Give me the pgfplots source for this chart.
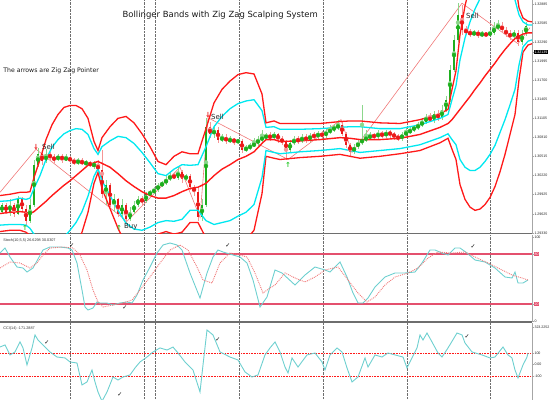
\documentclass[border=0pt]{standalone}
\usepackage{pgfplots}
\pgfplotsset{compat=1.18}
\usepackage{pgfplotstable}
\usepackage{fontspec}
\setmainfont{DejaVu Sans}
\newfontfamily\sym{DejaVu Sans}
\newfontfamily\tk{Liberation Sans}

\definecolor{bandred}{RGB}{255,25,25}
\definecolor{bandcyan}{RGB}{0,232,240}
\definecolor{upbody}{RGB}{30,175,30}
\definecolor{upwick}{RGB}{140,215,140}
\definecolor{dnbody}{RGB}{235,25,25}
\definecolor{dnwick}{RGB}{245,150,150}
\definecolor{zz}{RGB}{240,120,120}
\definecolor{teal1}{RGB}{110,208,208}
\definecolor{stline}{RGB}{228,80,110}
\definecolor{sepc}{RGB}{110,110,110}
\definecolor{gridc}{RGB}{110,110,110}
\definecolor{arrgreen}{RGB}{40,200,40}

\pgfplotstableread{
x o c h l
2 1.2966 1.2976 1.2980 1.2962
6 1.2976 1.2966 1.2979 1.2963
10 1.2966 1.2977 1.2985 1.2960
14 1.2977 1.2963 1.2980 1.2957
18 1.2963 1.2985 1.2991 1.2960
22 1.2985 1.2970 1.2988 1.2966
26 1.2970 1.2951 1.2977 1.2946
30 1.2951 1.2977 1.2985 1.2948
34 1.2977 1.3039 1.3047 1.2974
38 1.3039 1.3055 1.3065 1.3035
42 1.3055 1.3044 1.3062 1.3039
46 1.3044 1.3055 1.3064 1.3041
50 1.3055 1.3050 1.3059 1.3045
54 1.3050 1.3047 1.3055 1.3042
58 1.3047 1.3052 1.3056 1.3044
62 1.3052 1.3047 1.3055 1.3042
66 1.3047 1.3050 1.3055 1.3044
70 1.3050 1.3045 1.3053 1.3041
74 1.3045 1.3042 1.3050 1.3039
78 1.3042 1.3045 1.3050 1.3039
82 1.3045 1.3041 1.3049 1.3038
86 1.3041 1.3042 1.3047 1.3036
90 1.3042 1.3038 1.3045 1.3035
94 1.3038 1.3039 1.3044 1.3033
98 1.3039 1.3031 1.3047 1.3028
102 1.3031 1.2993 1.3062 1.2988
106 1.2993 1.3008 1.3016 1.2977
110 1.3008 1.2977 1.3011 1.2973
114 1.2977 1.2985 1.2993 1.2966
118 1.2985 1.2962 1.2988 1.2957
122 1.2962 1.2977 1.2985 1.2954
126 1.2977 1.2954 1.2980 1.2946
130 1.2954 1.2966 1.2973 1.2951
134 1.2966 1.2977 1.2982 1.2962
138 1.2977 1.2985 1.2990 1.2973
142 1.2985 1.2982 1.2991 1.2977
146 1.2982 1.2993 1.2997 1.2979
150 1.2993 1.2996 1.3000 1.2990
154 1.2996 1.3000 1.3005 1.2993
158 1.3000 1.3007 1.3011 1.2997
162 1.3007 1.3010 1.3014 1.3004
166 1.3010 1.3016 1.3021 1.3007
170 1.3016 1.3022 1.3027 1.3013
174 1.3022 1.3019 1.3028 1.3016
178 1.3019 1.3028 1.3035 1.3016
182 1.3028 1.3016 1.3031 1.3011
186 1.3016 1.3022 1.3025 1.3013
190 1.3022 1.3004 1.3025 1.3000
194 1.3004 1.2997 1.3008 1.2991
198 1.2997 1.2957 1.3004 1.2951
202 1.2957 1.2977 1.2985 1.2951
206 1.2977 1.3097 1.3112 1.2973
210 1.3097 1.3086 1.3106 1.3081
214 1.3086 1.3093 1.3100 1.3081
218 1.3093 1.3078 1.3097 1.3073
222 1.3078 1.3081 1.3087 1.3075
226 1.3081 1.3076 1.3086 1.3072
230 1.3076 1.3078 1.3083 1.3073
234 1.3078 1.3075 1.3081 1.3070
238 1.3075 1.3076 1.3079 1.3072
242 1.3076 1.3062 1.3079 1.3058
246 1.3062 1.3065 1.3070 1.3059
250 1.3065 1.3068 1.3073 1.3062
254 1.3068 1.3072 1.3081 1.3067
258 1.3072 1.3078 1.3084 1.3068
262 1.3078 1.3081 1.3093 1.3075
266 1.3081 1.3084 1.3089 1.3078
270 1.3084 1.3081 1.3090 1.3076
274 1.3081 1.3086 1.3090 1.3078
278 1.3086 1.3078 1.3089 1.3073
282 1.3078 1.3075 1.3083 1.3070
286 1.3075 1.3062 1.3078 1.3047
290 1.3062 1.3073 1.3078 1.3058
294 1.3073 1.3078 1.3083 1.3070
298 1.3078 1.3076 1.3083 1.3072
302 1.3076 1.3081 1.3086 1.3073
306 1.3081 1.3078 1.3086 1.3073
310 1.3078 1.3084 1.3089 1.3075
314 1.3084 1.3083 1.3090 1.3078
318 1.3083 1.3087 1.3092 1.3079
322 1.3087 1.3084 1.3092 1.3079
326 1.3084 1.3090 1.3095 1.3081
330 1.3090 1.3093 1.3100 1.3087
334 1.3093 1.3097 1.3103 1.3090
338 1.3097 1.3100 1.3109 1.3093
342 1.3100 1.3087 1.3106 1.3083
346 1.3087 1.3070 1.3090 1.3065
350 1.3070 1.3059 1.3073 1.3053
354 1.3059 1.3067 1.3072 1.3055
358 1.3067 1.3073 1.3078 1.3064
362 1.3073 1.3078 1.3132 1.3070
366 1.3078 1.3081 1.3093 1.3075
370 1.3081 1.3084 1.3090 1.3078
374 1.3084 1.3083 1.3089 1.3078
378 1.3083 1.3087 1.3093 1.3079
382 1.3087 1.3084 1.3092 1.3081
386 1.3084 1.3089 1.3093 1.3081
390 1.3089 1.3086 1.3093 1.3081
394 1.3086 1.3083 1.3090 1.3078
398 1.3083 1.3079 1.3087 1.3076
402 1.3079 1.3086 1.3090 1.3076
406 1.3086 1.3089 1.3097 1.3083
410 1.3089 1.3093 1.3098 1.3086
414 1.3093 1.3097 1.3101 1.3090
418 1.3097 1.3100 1.3106 1.3093
422 1.3100 1.3106 1.3112 1.3097
426 1.3106 1.3112 1.3118 1.3103
430 1.3112 1.3109 1.3120 1.3106
434 1.3109 1.3117 1.3123 1.3104
438 1.3117 1.3112 1.3124 1.3107
442 1.3112 1.3124 1.3132 1.3109
446 1.3124 1.3140 1.3146 1.3121
450 1.3140 1.3186 1.3194 1.3137
454 1.3186 1.3233 1.3241 1.3183
458 1.3233 1.3272 1.3290 1.3230
462 1.3272 1.3248 1.3287 1.3241
466 1.3248 1.3245 1.3255 1.3241
470 1.3245 1.3242 1.3250 1.3238
474 1.3242 1.3244 1.3248 1.3239
478 1.3244 1.3241 1.3248 1.3236
482 1.3241 1.3242 1.3247 1.3238
486 1.3242 1.3241 1.3245 1.3238
490 1.3241 1.3244 1.3248 1.3239
494 1.3244 1.3252 1.3261 1.3241
498 1.3252 1.3255 1.3264 1.3248
502 1.3255 1.3248 1.3261 1.3244
506 1.3248 1.3242 1.3253 1.3238
510 1.3242 1.3239 1.3248 1.3233
514 1.3239 1.3244 1.3248 1.3233
518 1.3244 1.3230 1.3248 1.3224
522 1.3230 1.3242 1.3248 1.3225
526 1.3242 1.3255 1.3261 1.3239
}\candles

\pgfplotstableread{
x u3 u2 m l2 l3
0 1.2991 1.2982 1.2963 1.2945 1.2935
10 1.2993 1.2983 1.2965 1.2946 1.2937
20 1.2996 1.2987 1.2966 1.2946 1.2937
26 1.2996 1.2985 1.2965 1.2945 1.2934
30 1.2997 1.2987 1.2963 1.2940 1.2929
34 1.3019 1.3002 1.2966 1.2931 1.2914
40 1.3047 1.3022 1.2974 1.2926 1.2901
46 1.3078 1.3047 1.2982 1.2917 1.2886
52 1.3101 1.3066 1.2991 1.2917 1.2881
58 1.3117 1.3078 1.2999 1.2920 1.2881
64 1.3128 1.3087 1.3007 1.2926 1.2886
70 1.3131 1.3092 1.3014 1.2937 1.2898
76 1.3131 1.3095 1.3022 1.2949 1.2914
82 1.3126 1.3094 1.3030 1.2966 1.2934
88 1.3111 1.3086 1.3038 1.2990 1.2965
94 1.3075 1.3064 1.3042 1.3021 1.3010
98 1.3061 1.3055 1.3044 1.3033 1.3027
102 1.3081 1.3067 1.3041 1.3014 1.3002
110 1.3098 1.3076 1.3035 1.2991 1.2971
118 1.3111 1.3083 1.3025 1.2968 1.2940
126 1.3114 1.3081 1.3014 1.2948 1.2915
134 1.3104 1.3072 1.3005 1.2939 1.2906
142 1.3087 1.3058 1.2997 1.2937 1.2908
150 1.3067 1.3042 1.2991 1.2942 1.2917
158 1.3044 1.3025 1.2987 1.2949 1.2931
166 1.3039 1.3022 1.2987 1.2952 1.2935
174 1.3052 1.3032 1.2991 1.2951 1.2931
182 1.3059 1.3039 1.2997 1.2954 1.2934
190 1.3056 1.3038 1.3002 1.2968 1.2949
198 1.3056 1.3039 1.3004 1.2968 1.2949
206 1.3095 1.3067 1.3010 1.2952 1.2925
214 1.3135 1.3098 1.3022 1.2946 1.2909
222 1.3156 1.3114 1.3032 1.2949 1.2908
230 1.3169 1.3126 1.3039 1.2952 1.2911
238 1.3179 1.3134 1.3047 1.2959 1.2914
246 1.3182 1.3138 1.3052 1.2965 1.2922
254 1.3180 1.3140 1.3059 1.2977 1.2937
262 1.3149 1.3123 1.3072 1.3019 1.2994
266 1.3104 1.3097 1.3078 1.3061 1.3052
274 1.3107 1.3098 1.3078 1.3058 1.3049
280 1.3103 1.3094 1.3075 1.3056 1.3047
300 1.3103 1.3094 1.3076 1.3059 1.3050
320 1.3103 1.3095 1.3078 1.3061 1.3052
340 1.3106 1.3097 1.3081 1.3064 1.3055
350 1.3107 1.3098 1.3080 1.3061 1.3052
360 1.3107 1.3098 1.3078 1.3058 1.3049
380 1.3104 1.3095 1.3078 1.3061 1.3052
400 1.3103 1.3095 1.3080 1.3064 1.3056
420 1.3109 1.3101 1.3086 1.3070 1.3061
440 1.3118 1.3111 1.3097 1.3081 1.3073
448 1.3125 1.3117 1.3103 1.3087 1.3080
452 1.3156 1.3140 1.3109 1.3078 1.3063
456 1.3185 1.3162 1.3117 1.3070 1.3047
460 1.3241 1.3202 1.3125 1.3047 1.3008
465 1.3286 1.3236 1.3135 1.3035 1.2985
470 1.3318 1.3261 1.3145 1.3030 1.2973
475 1.3343 1.3281 1.3156 1.3030 1.2968
480 1.3363 1.3297 1.3166 1.3035 1.2970
485 1.3377 1.3311 1.3177 1.3044 1.2977
490 1.3385 1.3320 1.3187 1.3055 1.2988
495 1.3390 1.3326 1.3197 1.3069 1.3005
500 1.3388 1.3328 1.3208 1.3089 1.3028
505 1.3379 1.3326 1.3218 1.3109 1.3055
510 1.3360 1.3317 1.3227 1.3132 1.3086
515 1.3324 1.3295 1.3235 1.3156 1.3117
519 1.3283 1.3272 1.3239 1.3194 1.3171
523 1.3267 1.3261 1.3242 1.3222 1.3214
528 1.3262 1.3256 1.3244 1.3231 1.3225
532 1.3261 1.3256 1.3244 1.3233 1.3227
}\bands

\pgfplotsset{
  mt/.style={
    scale only axis, width=532bp, xmin=0, xmax=532,
    axis x line*=bottom, axis y line*=right,
    x axis line style={-, draw=sepc, line width=1.8bp},
    y axis line style={-, draw=gray!70, line width=0.7bp},
    xtick={70,144,155,239,323,407,490}, xticklabels={},
    xtick style={draw=none},
    xmajorgrids, grid style={densely dotted, gridc, line width=0.5bp},
    ytick pos=right, yticklabel pos=right,
    tick align=outside, major tick length=1.5bp,
    ytick style={draw=gray!70, line width=0.4bp},
    yticklabel style={font=\tk\fontsize{3.6}{4}\selectfont, text=black!85, inner sep=0.8bp},
  },
  candle/.style={color=#1, only marks, mark=none, forget plot,
    error bars/.cd, y dir=both, y explicit, error mark=none},
}

\begin{document}
\begin{tikzpicture}
\useasboundingbox (0,0) rectangle (550bp,400bp);

% ---------------- main price panel ----------------
\begin{axis}[mt, at={(0,166.5bp)}, anchor=south west, height=233.5bp,
  ymin=1.2932, ymax=1.3295,
  ytick={1.2933,1.29625,1.29925,1.3022,1.30515,1.3081,1.31105,1.31405,1.317,1.31995,1.3229,1.32585,1.32885},
  yticklabels={1.29330,1.29625,1.29925,1.30220,1.30515,1.30810,1.31105,1.31405,1.31700,1.31995,1.32290,1.32585,1.32885},
  extra y ticks={1.32139}, extra y tick labels={1.32139},
  extra y tick style={yticklabel style={fill=black, text=white}},
]
% zig zag
\addplot[zz, line width=0.6bp] table {
x y
0 1.2996
36 1.3063
127 1.2951
180 1.3035
200 1.2957
208 1.3112
288 1.3047
341 1.3109
352 1.3058
462 1.3290
518 1.3227
530 1.3252
};
% candle wicks
\addplot[candle=upwick, error bar style={color=upwick, line width=0.6bp}]
  table[x=x, y expr={\thisrow{c}>=\thisrow{o} ? (\thisrow{h}+\thisrow{l})/2 : nan},
        y error expr={(\thisrow{h}-\thisrow{l})/2}] {\candles};
\addplot[candle=dnwick, error bar style={color=dnwick, line width=0.6bp}]
  table[x=x, y expr={\thisrow{c}<\thisrow{o} ? (\thisrow{h}+\thisrow{l})/2 : nan},
        y error expr={(\thisrow{h}-\thisrow{l})/2}] {\candles};
% candle bodies
\addplot[candle=upbody, error bar style={color=upbody, line width=2.7bp, line cap=butt}]
  table[x=x, y expr={\thisrow{c}>=\thisrow{o} ? (\thisrow{o}+\thisrow{c})/2 : nan},
        y error expr={max(abs(\thisrow{c}-\thisrow{o})/2,0.00005)}] {\candles};
\addplot[candle=dnbody, error bar style={color=dnbody, line width=2.7bp, line cap=butt}]
  table[x=x, y expr={\thisrow{c}<\thisrow{o} ? (\thisrow{o}+\thisrow{c})/2 : nan},
        y error expr={max(abs(\thisrow{c}-\thisrow{o})/2,0.00005)}] {\candles};
% bollinger bands
\addplot[bandred, line width=1.3bp] table[x=x, y=l3] {\bands};
\addplot[bandcyan, line width=1.3bp] table[x=x, y=l2] {\bands};
\addplot[bandred, line width=1.4bp] table[x=x, y=m] {\bands};
\addplot[bandcyan, line width=1.3bp] table[x=x, y=u2] {\bands};
\addplot[bandred, line width=1.3bp] table[x=x, y=u3] {\bands};
% zig zag pointer arrows
\addplot[draw=none, mark=none, nodes near coords={\sym\bfseries ↑},
  every node near coord/.append style={anchor=center, text=arrgreen, font=\fontsize{7}{7}\selectfont}] table {
x y
25 1.2940
119 1.2941
288 1.3039
};
\addplot[draw=none, mark=none, nodes near coords={\sym\bfseries ↓},
  every node near coord/.append style={anchor=center, text=dnbody, font=\fontsize{7}{7}\selectfont}] table {
x y
36 1.3067
208 1.3116
};
\addplot[draw=none, mark=none, nodes near coords, point meta=explicit symbolic,
  every node near coord/.append style={anchor=west, text=black!85, font=\fontsize{7}{7.5}\selectfont, inner sep=0pt}] table[meta=t] {
x y t
42 1.3067 Sell
124 1.2942 Buy
211 1.3114 Sell
466 1.3271 Sell
};
\node[font=\fontsize{8.5}{9}\selectfont, text=black!90] at (rel axis cs:0.414,0.936) {Bollinger Bands with Zig Zag Scalping System};
\node[font=\fontsize{6.2}{7}\selectfont, anchor=west, text=black!90, inner sep=0pt] at (rel axis cs:0.006,0.696) {The arrows are Zig Zag Pointer};
\end{axis}

% ---------------- stochastic panel ----------------
\begin{axis}[mt, at={(0,78bp)}, anchor=south west, height=87bp,
  ymin=-1.2, ymax=103.2,
  ytick={0,100}, yticklabels={0,100},
  extra y ticks={20,80}, extra y tick labels={20,80},
  extra y tick style={yticklabel style={fill=stline, text=white}},
]
\addplot[stline, line width=1.8bp] coordinates {(0,80) (532,80)};
\addplot[stline, line width=1.8bp] coordinates {(0,20) (532,20)};
\addplot[teal1, line width=0.9bp] table {
x y
0 81.6
5 87.6
10 76.8
17 64.8
23 63.6
27 58.8
33 63.6
43 85.2
50 88.8
60 88.8
68 87.6
72 85.2
77 69.6
82 37.2
85 16.8
88 13.2
93 15.6
97 22.8
100 21.6
107 21.6
113 19.2
120 21.6
127 22.8
132 21.6
137 31.2
143 49.2
150 64.8
157 81.6
163 91.2
170 93.6
177 91.2
182 85.2
190 57.6
200 27.6
207 57.6
213 76.8
218 85.2
223 82.8
233 79.2
240 76.8
247 69.6
253 49.2
260 16.8
267 28.8
275 61.2
282 57.6
295 43.2
305 55.2
315 64.8
325 61.2
330 58.8
340 70.8
347 52.8
353 33.6
358 21.6
363 21.6
368 27.6
375 40.8
385 52.8
395 57.6
405 57.6
415 58.8
422 69.6
430 85.2
435 85.2
442 81.6
448 79.2
455 87.6
460 87.6
467 81.6
475 73.2
485 70.8
495 63.6
505 52.8
512 51.6
515 58.8
518 45.6
523 45.6
528 49.2
};
\addplot[zz, densely dotted, line width=0.9bp] table {
x y
0 63.6
10 70.8
20 69.6
30 63.6
37 69.6
43 79.2
50 87.6
63 88.8
73 87.6
80 79.2
87 61.2
93 37.2
98 22.8
103 16.8
113 19.2
123 21.6
132 25.2
140 37.2
150 52.8
160 69.6
170 85.2
180 91.2
188 85.2
197 64.8
203 49.2
212 45.6
220 69.6
230 81.6
240 79.2
247 76.8
255 57.6
263 33.6
270 39.6
275 43.2
285 57.6
295 51.6
305 46.8
315 52.8
325 61.2
338 64.8
348 49.2
358 33.6
367 22.8
375 28.8
385 43.2
395 52.8
408 57.6
418 63.6
428 75.6
438 82.8
452 81.6
465 82.8
475 76.8
488 69.6
502 61.2
512 55.2
522 51.6
528 49.2
};
\addplot[draw=none, mark=none, nodes near coords={\sym ✓},
  every node near coord/.append style={anchor=center, text=black, font=\fontsize{6}{6}\selectfont}] table {
x y
72 91
125 15.6
228 91
473 89
};
\node[font=\tk\fontsize{3.8}{4}\selectfont, anchor=north west, text=black!80, inner sep=0pt] at (rel axis cs:0.006,0.96) {Stoch(10,5,5) 26.6298 30.0307};
\end{axis}

% ---------------- CCI panel ----------------
\begin{axis}[mt, at={(0,0)}, anchor=south west, height=77bp,
  ymin=-309, ymax=361,
  x axis line style={draw=none},
  ytick={-100,0,100,323.2252}, yticklabels={-100,0.00,100,323.2252},
]
\addplot[bandred, densely dotted, line width=0.6bp] coordinates {(0,100) (532,100)};
\addplot[bandred, densely dotted, line width=0.6bp] coordinates {(0,-100) (532,-100)};
\addplot[teal1, line width=0.9bp] table {
x y
0 152
5 170
10 83
15 109
20 196
23 144
27 -4
32 144
35 257
38 213
43 170
50 109
57 65
65 57
70 22
77 13
82 -178
87 -152
92 -48
95 -152
98 -239
102 -320
107 -239
113 -109
118 -135
123 -109
130 -91
135 -30
140 22
147 65
153 109
160 144
167 126
173 152
178 100
185 22
193 -48
200 -239
203 -4
207 300
213 257
220 109
230 65
238 39
245 -65
252 -109
258 -91
265 83
270 144
275 196
280 109
285 -22
288 -74
292 57
298 -22
307 83
315 100
322 22
325 -48
330 83
337 144
342 109
347 -30
352 -152
358 -109
365 57
368 -22
375 83
382 65
388 100
395 83
403 65
407 -30
412 57
417 144
420 257
423 213
427 274
432 196
438 100
442 65
448 144
457 274
462 257
465 187
472 109
482 83
490 57
495 65
503 152
508 83
512 57
515 -48
518 -117
523 -4
527 65
528 100
};
\addplot[draw=none, mark=none, nodes near coords={\sym ✓},
  every node near coord/.append style={anchor=center, text=black, font=\fontsize{6}{6}\selectfont}] table {
x y
47 187
120 -265
218 213
467 239
};
\node[font=\tk\fontsize{3.8}{4}\selectfont, anchor=north west, text=black!80, inner sep=0pt] at (rel axis cs:0.006,0.96) {CCI(14) -171.2887};
\end{axis}
\end{tikzpicture}
\end{document}
